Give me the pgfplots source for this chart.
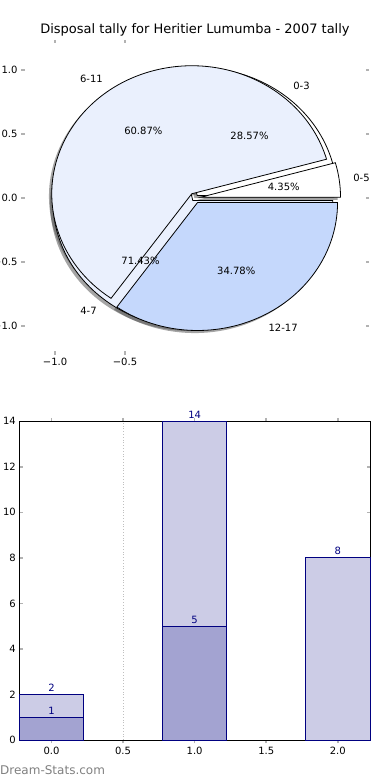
\documentclass[border=0pt]{standalone}
\usepackage{pgfplots}
\pgfplotsset{compat=1.18}
\usepackage{fontspec}
\setmainfont{DejaVu Sans}
\definecolor{pieLight}{HTML}{EAF0FD}
\definecolor{pieMid}{HTML}{C5D8FC}
\definecolor{barNavy}{HTML}{000080}
\definecolor{barLight}{HTML}{CCCCE6}
\definecolor{barDark}{HTML}{A3A3D1}

% pie data: value/label/colour
\def\pieOuter{2/0-3/white,5/4-7/pieLight}
\def\pieInner{1/0-5/white,14/6-11/pieLight,8/12-17/pieMid}

\newcommand\pietotal[1]{%
  \xdef\ptotal{0}%
  \foreach \pv/\pl/\pc in #1 {\pgfmathparse{\ptotal+\pv}\xdef\ptotal{\pgfmathresult}}%
}
\newcommand\drawpie[3]{% #1 list, #2 explode, #3 mode (0 shadow, 1 wedge, 2 text)
  \pietotal{#1}%
  \xdef\pstart{0}%
  \foreach \pv/\pl/\pc in #1 {%
    \pgfmathsetmacro\pend{\pstart+360*\pv/\ptotal}%
    \pgfmathsetmacro\pmid{(\pstart+\pend)/2}%
    \pgfmathsetmacro\ox{#2*cos(\pmid)}%
    \pgfmathsetmacro\oy{#2*sin(\pmid)}%
    \ifcase#3\relax
      \pgfmathsetmacro\sx{\ox-0.02}\pgfmathsetmacro\sy{\oy-0.02}%
      \edef\cmd{\noexpand\fill[black!70,fill opacity=0.5,shift={(axis cs:\sx,\sy)},x={(axis direction cs:1,0)},y={(axis direction cs:0,1)}] (0,0) -- (\pstart:1) arc[start angle=\pstart,end angle=\pend,radius=1] -- cycle;}%
    \or
      \edef\cmd{\noexpand\filldraw[fill=\pc,draw=black,line width=0.8pt,line join=miter,shift={(axis cs:\ox,\oy)},x={(axis direction cs:1,0)},y={(axis direction cs:0,1)}] (0,0) -- (\pstart:1) arc[start angle=\pstart,end angle=\pend,radius=1] -- cycle;}%
    \or
      \pgfmathsetmacro\lx{\ox+1.1*cos(\pmid)}%
      \pgfmathsetmacro\ly{\oy+1.1*sin(\pmid)}%
      \pgfmathsetmacro\qx{\ox+0.6*cos(\pmid)}%
      \pgfmathsetmacro\qy{\oy+0.6*sin(\pmid)}%
      \pgfmathtruncatemacro\pn{round((100*\pv/\ptotal)*100)}%
      \pgfmathtruncatemacro\pcI{\pn/100}%
      \pgfmathtruncatemacro\pcF{\pn-100*\pcI}%
      \pgfmathtruncatemacro\isright{\lx>0}%
      \ifnum\isright=1 \def\lanchor{west}\else\def\lanchor{east}\fi
      \edef\cmd{\noexpand\node[anchor=\lanchor,inner sep=0pt] at (axis cs:\lx,\ly) {\pl}; \noexpand\node[inner sep=0pt] at (axis cs:\qx,\qy) {\pcI.\ifnum\pcF<10 0\fi\pcF\noexpand\%};}%
    \fi
    \cmd
    \xdef\pstart{\pend}%
  }%
}

\pgfplotsset{every axis/.append style={
  font=\fontsize{10}{12}\selectfont,
  tick align=inside,
  tick style={draw=black!30, line width=1.5pt},
  major tick length=3.5pt,
  /pgf/number format/assume math mode=true,
}}

\begin{document}
\begin{tikzpicture}
\path[use as bounding box] (0,0) rectangle (390pt,780pt);

\node[font=\fontsize{13}{15}\selectfont] at (195pt,750pt) {Disposal tally for Heritier Lumumba - 2007 tally};

% ---------- pie chart ----------
\begin{axis}[
  at={(21pt,425pt)}, anchor=south west,
  width=348pt, height=315pt, scale only axis,
  xmin=-1.243, xmax=1.243, ymin=-1.227, ymax=1.234,
  axis line style={draw=none},
  xtick={-1,-0.5}, xticklabels={−1.0,−0.5},
  ytick={-1,-0.5,0,0.5,1}, yticklabels={−1.0,−0.5,0.0,0.5,1.0},
  clip=false,
]
\drawpie{\pieOuter}{0.025}{0}
\drawpie{\pieInner}{0.04}{0}
\drawpie{\pieOuter}{0.025}{1}
\drawpie{\pieInner}{0.04}{1}
\drawpie{\pieOuter}{0.025}{2}
\drawpie{\pieInner}{0.04}{2}
\end{axis}

% ---------- bar chart ----------
\begin{axis}[
  at={(19.3pt,40pt)}, anchor=south west,
  width=350.7pt, height=318.7pt, scale only axis,
  xmin=-0.225, xmax=2.225, ymin=0, ymax=14,
  xtick={0,0.5,1,1.5,2},
  xticklabel style={/pgf/number format/.cd, fixed, fixed zerofill, precision=1, /tikz/.cd},
  ytick={0,2,...,14},
  axis line style={black, line width=0.8pt},
  ybar, bar width=0.45,
  clip=false,
  nodes near coords,
  nodes near coords style={text=barNavy, font=\fontsize{10}{12}\selectfont, inner sep=2.5pt},
]
\addplot[gray!50, dotted, line width=0.8pt, sharp plot, nodes near coords=] coordinates {(0.5,0) (0.5,14)};
\addplot[bar shift=0pt, fill=barLight, draw=barNavy, line width=0.8pt] coordinates {(0,2) (1,14) (2,8)};
\addplot[bar shift=0pt, fill=barDark, draw=barNavy, line width=0.8pt] coordinates {(0,1) (1,5)};
\end{axis}

\node[anchor=west, inner sep=0pt, text=black!50, font=\fontsize{12}{14}\selectfont] at (0pt,10pt) {Dream-Stats.com};
\end{tikzpicture}
\end{document}
